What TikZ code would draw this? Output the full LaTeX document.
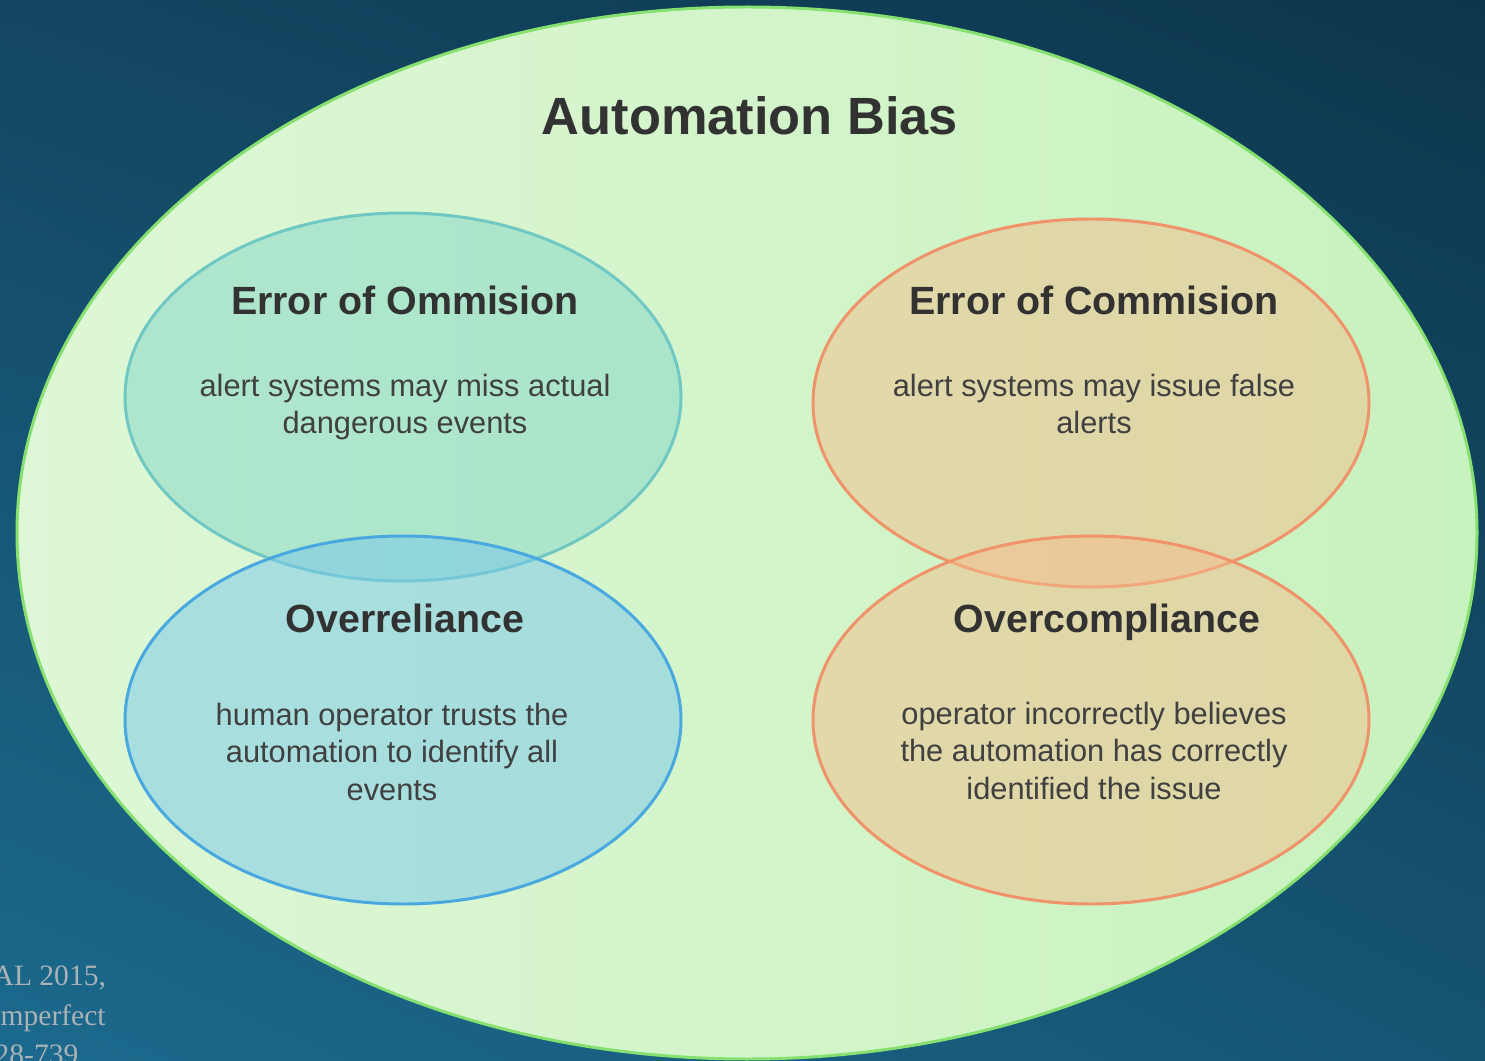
\documentclass[tikz,border=0pt]{standalone}
\usepackage{fontspec}
\setmainfont{Liberation Sans}
\newfontfamily\refserif{Liberation Serif}
\usepackage{xcolor}
\usepackage{tikz}
\usetikzlibrary{shadings}

% colours picked from the slide
\definecolor{bgtl}{RGB}{19,70,97}
\definecolor{bgtr}{RGB}{13,54,77}
\definecolor{bgbl}{RGB}{27,106,142}
\definecolor{bgbr}{RGB}{22,84,114}
\definecolor{biasfillL}{RGB}{222,247,214}
\definecolor{biasfillR}{RGB}{200,242,190}
\definecolor{biasrim}{RGB}{134,224,112}
\definecolor{omitfill}{RGB}{130,215,200}
\definecolor{omitrim}{RGB}{112,200,196}
\definecolor{relyfill}{RGB}{120,199,236}
\definecolor{relyrim}{RGB}{74,168,224}
\definecolor{commfill}{RGB}{243,189,141}
\definecolor{commrim}{RGB}{240,146,106}
\definecolor{inkdark}{RGB}{50,50,50}
\definecolor{inkbody}{RGB}{64,64,64}
\definecolor{citegrey}{RGB}{170,178,182}

\tikzset{
  bigtitle/.style={inner sep=0pt, anchor=base, text=inkdark,
    font=\fontsize{14.9}{18}\selectfont\bfseries},
  headtext/.style={inner sep=0pt, anchor=base, text=inkdark,
    font=\fontsize{11.2}{13.5}\selectfont\bfseries},
  % base of a multi-line node sits on its last line
  bodytext/.style={inner sep=0pt, anchor=base, text=inkbody, align=center,
    font=\fontsize{8.76}{10.53}\selectfont},
  citetext/.style={inner sep=0pt, anchor=base west, text=citegrey,
    font=\refserif\fontsize{8.4}{11.1}\selectfont},
  blob/.style={line width=0.85pt, fill opacity=0.5},
}

\begin{document}
\begin{tikzpicture}[x=0.01cm,y=-0.01cm]
  \useasboundingbox (0,0) rectangle (1485,1061);
  \shade[upper left=bgtl, upper right=bgtr, lower left=bgbl, lower right=bgbr]
    (0,0) rectangle (1485,1061);

  % citation behind the diagram
  \node[citetext] (citeA) at (-8,985) {AL 2015,};
  \node[citetext] (citeB) at (0,1025) {mperfect};
  \node[citetext] (citeC) at (-6,1064) {28-739};

  % outer ellipse
  \coordinate (bias) at (747,533);
  \draw[line width=0.85pt, draw=biasrim, left color=biasfillL, right color=biasfillR]
    (bias) ellipse (730 and 526);
  \node[bigtitle] (biastitle) at (750,135) {Automation Bias};

  % the four categories
  \coordinate (omit) at (403,397);
  \coordinate (rely) at (403,720);
  \coordinate (comm) at (1091,403);
  \coordinate (comply) at (1091,720);
  \draw[blob, draw=omitrim, fill=omitfill] (omit) ellipse (278 and 184);
  \draw[blob, draw=relyrim, fill=relyfill] (rely) ellipse (278 and 184);
  \draw[blob, draw=commrim, fill=commfill] (comm) ellipse (278 and 184);
  \draw[blob, draw=commrim, fill=commfill] (comply) ellipse (278 and 184);

  \node[headtext] (omithead) at (405,315) {Error of Ommision};
  \node[bodytext] (omitbody) at (405,434) {alert systems may miss actual\\dangerous events};

  \node[headtext] (commhead) at (1094,315) {Error of Commision};
  \node[bodytext] (commbody) at (1094,434) {alert systems may issue false\\alerts};

  \node[headtext] (relyhead) at (405,632) {Overreliance};
  \node[bodytext] (relybody) at (392,800) {human operator trusts the\\automation to identify all\\events};

  \node[headtext] (complyhead) at (1107,632) {Overcompliance};
  \node[bodytext] (complybody) at (1094,799) {operator incorrectly believes\\the automation has correctly\\identified the issue};
\end{tikzpicture}
\end{document}
